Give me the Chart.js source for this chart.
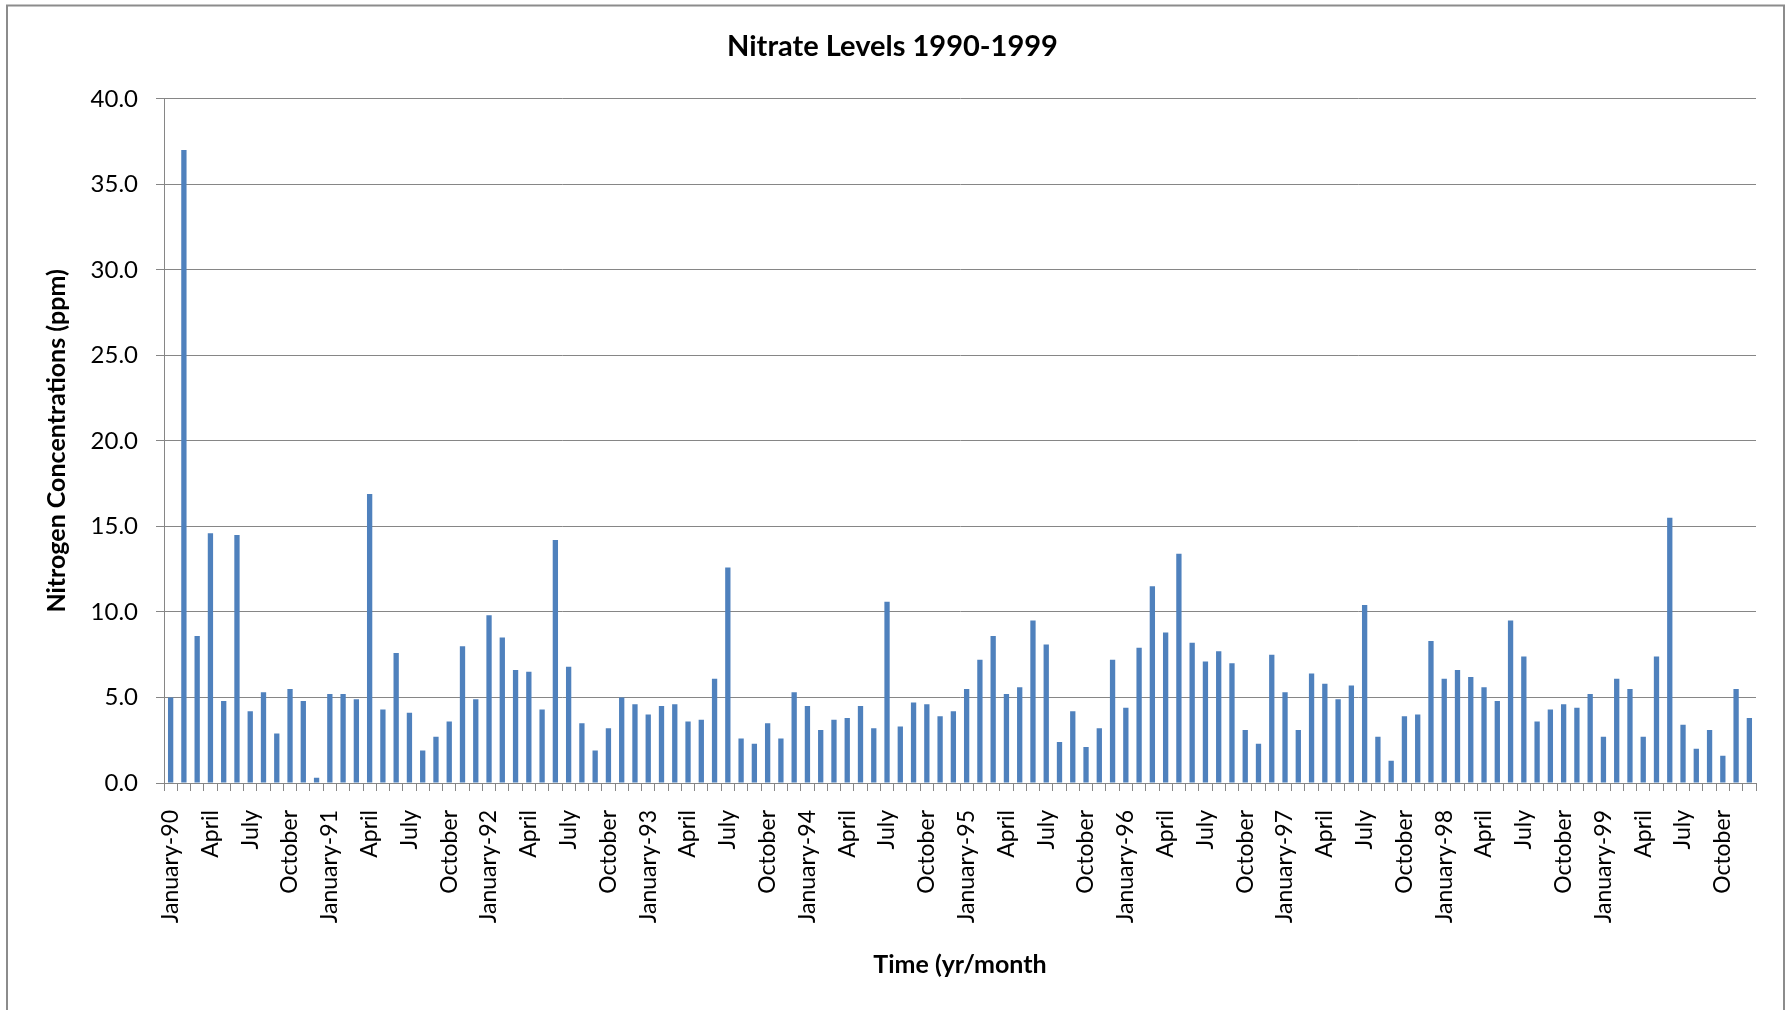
<!DOCTYPE html>
<html>
<head>
<meta charset="utf-8">
<title>Nitrate Levels 1990-1999</title>
<script src="https://cdn.jsdelivr.net/npm/chart.js@4.4.0/dist/chart.umd.min.js"></script>
<style>
  html, body { margin: 0; padding: 0; background: #fff; }
  #wrap { width: 1785px; height: 1010px; }
</style>
</head>
<body>
<div id="wrap"><canvas id="nitrateChart" width="1785" height="1010"></canvas></div>
<script>
const months = ['January', 'February', 'March', 'April', 'May', 'June',
  'July', 'August', 'September', 'October', 'November', 'December'];
const years = ['90', '91', '92', '93', '94', '95', '96', '97', '98', '99'];

// monthly nitrate readings, ppm
const nitrate = [
  5.0, 37.0, 8.6, 14.6, 4.8, 14.5, 4.2, 5.3, 2.9, 5.5, 4.8, 0.3,
  5.2, 5.2, 4.9, 16.9, 4.3, 7.6, 4.1, 1.9, 2.7, 3.6, 8.0, 4.9,
  9.8, 8.5, 6.6, 6.5, 4.3, 14.2, 6.8, 3.5, 1.9, 3.2, 5.0, 4.6,
  4.0, 4.5, 4.6, 3.6, 3.7, 6.1, 12.6, 2.6, 2.3, 3.5, 2.6, 5.3,
  4.5, 3.1, 3.7, 3.8, 4.5, 3.2, 10.6, 3.3, 4.7, 4.6, 3.9, 4.2,
  5.5, 7.2, 8.6, 5.2, 5.6, 9.5, 8.1, 2.4, 4.2, 2.1, 3.2, 7.2,
  4.4, 7.9, 11.5, 8.8, 13.4, 8.2, 7.1, 7.7, 7.0, 3.1, 2.3, 7.5,
  5.3, 3.1, 6.4, 5.8, 4.9, 5.7, 10.4, 2.7, 1.3, 3.9, 4.0, 8.3,
  6.1, 6.6, 6.2, 5.6, 4.8, 9.5, 7.4, 3.6, 4.3, 4.6, 4.4, 5.2,
  2.7, 6.1, 5.5, 2.7, 7.4, 15.5, 3.4, 2.0, 3.1, 1.6, 5.5, 3.8
];

const yMin = 0;
const yMax = 40;
const yStep = 5;

const labels = [];
years.forEach(yr => {
  months.forEach((m, i) => labels.push(i === 0 ? m + '-' + yr : m));
});

const barBlue = '#4f81bd';
const gridGray = '#868686';
const fontFamily = 'Lato, "Open Sans", sans-serif';

const frame = {
  id: 'frame',
  beforeDraw(chart) {
    const c = chart.ctx;
    c.save();
    c.fillStyle = '#fff';
    c.fillRect(0, 0, chart.width, chart.height);
    c.strokeStyle = '#8c8c8c';
    c.lineWidth = 2;
    c.strokeRect(7, 5.5, 1777, 1100);
    c.restore();
  }
};

new Chart(document.getElementById('nitrateChart'), {
  type: 'bar',
  data: {
    labels: labels,
    datasets: [{
      label: 'Nitrate',
      data: nitrate,
      backgroundColor: barBlue,
      borderWidth: 0,
      barPercentage: 0.4,
      categoryPercentage: 1.0
    }]
  },
  plugins: [frame],
  options: {
    responsive: false,
    animation: false,
    layout: { padding: 0 },
    plugins: {
      legend: { display: false },
      tooltip: { enabled: false },
      title: {
        display: true,
        text: 'Nitrate Levels 1990-1999',
        color: '#000',
        font: { family: fontFamily, size: 29, weight: 'bold' },
        padding: { top: 29, bottom: 35 }
      }
    },
    scales: {
      x: {
        offset: true,
        grid: { offset: true, drawOnChartArea: false, tickLength: 8, color: gridGray },
        border: { color: gridGray },
        ticks: {
          autoSkip: false,
          minRotation: 90,
          maxRotation: 90,
          padding: 19,
          color: '#000',
          font: { family: fontFamily, size: 23 },
          callback: function (v, i) {
            return i % 3 === 0 ? this.getLabelForValue(v) : '';
          }
        },
        title: {
          display: true,
          text: 'Time (yr/month',
          color: '#000',
          font: { family: fontFamily, size: 25, weight: 'bold' },
          padding: { top: 0, bottom: 30 }
        },
        afterFit: s => {
          s.height = 227;
          s.paddingLeft = 0;
          s.paddingRight = 29;
        }
      },
      y: {
        min: yMin,
        max: yMax,
        grid: { color: gridGray, tickLength: 8 },
        border: { color: gridGray },
        ticks: {
          stepSize: yStep,
          padding: 18,
          color: '#000',
          font: { family: fontFamily, size: 24 },
          callback: v => v.toFixed(1)
        },
        title: {
          display: true,
          text: 'Nitrogen Concentrations (ppm)',
          color: '#000',
          font: { family: fontFamily, size: 25, weight: 'bold' },
          padding: { top: 42, bottom: 0 }
        },
        afterFit: s => { s.width = 164; }
      }
    }
  }
});
</script>
</body>
</html>
